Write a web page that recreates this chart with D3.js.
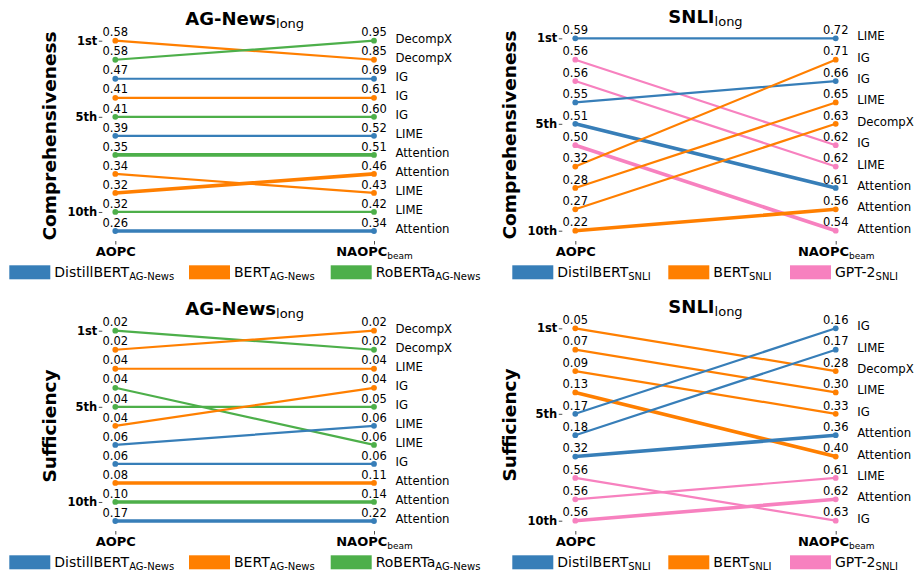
<!DOCTYPE html>
<html>
<head>
<meta charset="utf-8">
<script src="https://cdn.jsdelivr.net/npm/d3@7"></script>
<style>
  body { margin: 0; background: #fff; }
  svg { display: block; font-family: "DejaVu Sans", sans-serif; }
</style>
</head>
<body>
<svg id="chart" width="919" height="575"></svg>
<script>
// ---------------- DATA ----------------
const metricsX = ["AOPC", "NAOPC"];
const rankTicks = [1, 5, 10];
const rankTickLabels = ["1st", "5th", "10th"];

// Comprehensiveness, AG-News
const cAgModel  = ["BERT","RoBERTa","DistilBERT","BERT","RoBERTa","DistilBERT","RoBERTa","BERT","BERT","RoBERTa","DistilBERT"];
const cAgMethod = ["DecompX","DecompX","IG","IG","IG","LIME","Attention","LIME","Attention","LIME","Attention"];
const cAgRankA  = [1,2,3,4,5,6,7,8,9,10,11];
const cAgRankN  = [2,1,3,4,5,6,7,9,8,10,11];
const cAgAopc   = [0.58,0.58,0.47,0.41,0.41,0.39,0.35,0.34,0.32,0.32,0.26];
const cAgNaopc  = [0.85,0.95,0.69,0.61,0.60,0.52,0.51,0.43,0.46,0.42,0.34];

// Comprehensiveness, SNLI
const cSnModel  = ["DistilBERT","GPT-2","GPT-2","DistilBERT","DistilBERT","GPT-2","BERT","BERT","BERT","BERT"];
const cSnMethod = ["LIME","IG","LIME","IG","Attention","Attention","IG","LIME","DecompX","Attention"];
const cSnRankA  = [1,2,3,4,5,6,7,8,9,10];
const cSnRankN  = [1,6,7,3,8,10,2,4,5,9];
const cSnAopc   = [0.59,0.56,0.56,0.55,0.51,0.50,0.32,0.28,0.27,0.22];
const cSnNaopc  = [0.72,0.62,0.62,0.66,0.61,0.54,0.71,0.65,0.63,0.56];

// Sufficiency, AG-News
const sAgModel  = ["RoBERTa","BERT","BERT","RoBERTa","RoBERTa","BERT","DistilBERT","DistilBERT","BERT","RoBERTa","DistilBERT"];
const sAgMethod = ["DecompX","DecompX","LIME","LIME","IG","IG","LIME","IG","Attention","Attention","Attention"];
const sAgRankA  = [1,2,3,4,5,6,7,8,9,10,11];
const sAgRankN  = [2,1,3,7,5,4,6,8,9,10,11];
const sAgAopc   = [0.02,0.02,0.04,0.04,0.04,0.04,0.06,0.06,0.08,0.10,0.17];
const sAgNaopc  = [0.02,0.02,0.04,0.06,0.05,0.04,0.06,0.06,0.11,0.14,0.22];

// Sufficiency, SNLI
const sSnModel  = ["BERT","BERT","BERT","BERT","DistilBERT","DistilBERT","DistilBERT","GPT-2","GPT-2","GPT-2"];
const sSnMethod = ["DecompX","LIME","IG","Attention","IG","LIME","Attention","IG","LIME","Attention"];
const sSnRankA  = [1,2,3,4,5,6,7,8,9,10];
const sSnRankN  = [3,4,5,7,1,2,6,10,8,9];
const sSnAopc   = [0.05,0.07,0.09,0.13,0.17,0.18,0.32,0.56,0.56,0.56];
const sSnNaopc  = [0.28,0.30,0.33,0.40,0.16,0.17,0.36,0.63,0.61,0.62];

// Legends
const agLegendNames = ["DistillBERT","BERT","RoBERTa"];
const agLegendKeys  = ["DistilBERT","BERT","RoBERTa"];
const agLegendSub   = "AG-News";
const snLegendNames = ["DistilBERT","BERT","GPT-2"];
const snLegendKeys  = ["DistilBERT","BERT","GPT-2"];
const snLegendSub   = "SNLI";

// ---------------- STYLE / LAYOUT ----------------
const color = d3.scaleOrdinal()
  .domain(["DistilBERT","BERT","RoBERTa","GPT-2"])
  .range(["#377eb8","#ff7f00","#4daf4a","#f781bf"]);

const svg = d3.select("#chart");
const fmt = d3.format(".2f");

function buildLines(model, method, rA, rN, vA, vN) {
  return model.map((m, i) => ({model: m, method: method[i], rA: rA[i], rN: rN[i], vA: vA[i], vN: vN[i]}));
}

const panels = [
  {title:"AG-News", ylab:"Comprehensiveness", lines: buildLines(cAgModel,cAgMethod,cAgRankA,cAgRankN,cAgAopc,cAgNaopc),
   xr:[115.3,374], yr:[40.7,231], bottom:241, ytitleX:56, ytitleY:136},
  {title:"SNLI", ylab:"Comprehensiveness", lines: buildLines(cSnModel,cSnMethod,cSnRankA,cSnRankN,cSnAopc,cSnNaopc),
   xr:[575.3,835.7], yr:[38.3,230.7], bottom:241, ytitleX:516, ytitleY:135},
  {title:"AG-News", ylab:"Sufficiency", lines: buildLines(sAgModel,sAgMethod,sAgRankA,sAgRankN,sAgAopc,sAgNaopc),
   xr:[115.3,374], yr:[330.7,521], bottom:531, ytitleX:56, ytitleY:426},
  {title:"SNLI", ylab:"Sufficiency", lines: buildLines(sSnModel,sSnMethod,sSnRankA,sSnRankN,sSnAopc,sSnNaopc),
   xr:[575.3,835.7], yr:[328.3,520.7], bottom:531, ytitleX:516, ytitleY:425}
];

panels.forEach(p => {
  const n = p.lines.length;
  const x = d3.scalePoint().domain(metricsX).range(p.xr);
  const y = d3.scaleLinear().domain([1, n]).range(p.yr);
  const g = svg.append("g");
  const xA = x("AOPC"), xN = x("NAOPC");

  // title
  const t = g.append("text").attr("x", (xA + xN) / 2).attr("y", p.yr[0] - 15.5)
    .attr("text-anchor", "middle").attr("fill", "#000");
  t.append("tspan").attr("font-size", "18px").attr("font-weight", "bold").text(p.title);
  t.append("tspan").attr("font-size", "13px").attr("dy", "3").text("long");

  // y title
  g.append("text")
    .attr("transform", `translate(${p.ytitleX},${p.ytitleY}) rotate(-90)`)
    .attr("text-anchor", "middle").attr("font-size", "18.5px").attr("font-weight", "bold")
    .attr("fill", "#000").text(p.ylab);

  // y axis (rank ticks)
  const yAxis = g.append("g").attr("transform", `translate(${xA - 13},0)`)
    .call(d3.axisLeft(y).tickValues(rankTicks)
      .tickFormat((d, i) => rankTickLabels[i]).tickSize(3.5).tickPadding(1.5));
  yAxis.select(".domain").remove();
  yAxis.selectAll(".tick line").attr("stroke", "#222").attr("stroke-width", 0.8);
  yAxis.selectAll(".tick text").attr("font-size", "11.5px").attr("font-weight", "bold")
    .attr("font-family", "DejaVu Sans").attr("fill", "#000");

  // x axis
  const xAxis = g.append("g").attr("transform", `translate(0,${p.bottom})`)
    .call(d3.axisBottom(x).tickSize(3.5).tickPadding(2.3));
  xAxis.select(".domain").remove();
  xAxis.selectAll(".tick line").attr("stroke", "#222").attr("stroke-width", 0.8);
  xAxis.selectAll(".tick text").attr("font-size", "13px").attr("font-weight", "bold")
    .attr("font-family", "DejaVu Sans").attr("fill", "#000")
    .each(function(d) {
      const s = d3.select(this);
      s.text(null);
      s.append("tspan").text(d);
      if (d === "NAOPC") {
        s.append("tspan").attr("font-size", "9px").attr("font-weight", "normal").attr("dy", "2.5").text("beam");
      }
    });

  // lines
  g.append("g").selectAll("line").data(p.lines).join("line")
    .attr("x1", xA).attr("x2", xN)
    .attr("y1", d => y(d.rA)).attr("y2", d => y(d.rN))
    .attr("stroke", d => color(d.model))
    .attr("stroke-width", d => d.method === "Attention" ? 3.6 : 2.2)
    .attr("stroke-linecap", "round");

  // dots
  const dots = g.append("g");
  dots.selectAll("circle.a").data(p.lines).join("circle").attr("class", "a")
    .attr("cx", xA).attr("cy", d => y(d.rA)).attr("r", 2.9).attr("fill", d => color(d.model));
  dots.selectAll("circle.n").data(p.lines).join("circle").attr("class", "n")
    .attr("cx", xN).attr("cy", d => y(d.rN)).attr("r", 2.9).attr("fill", d => color(d.model));

  // value labels
  const lab = g.append("g").attr("font-size", "11.5px").attr("fill", "#000");
  lab.selectAll("text.va").data(p.lines).join("text").attr("class", "va")
    .attr("x", xA).attr("y", d => y(d.rA) - 4.3).attr("text-anchor", "middle").text(d => fmt(d.vA));
  lab.selectAll("text.vn").data(p.lines).join("text").attr("class", "vn")
    .attr("x", xN).attr("y", d => y(d.rN) - 4.3).attr("text-anchor", "middle").text(d => fmt(d.vN));
  lab.selectAll("text.m").data(p.lines).join("text").attr("class", "m")
    .attr("x", xN + 21.5).attr("y", d => y(d.rN) + 2).attr("font-size", "11.7px").text(d => d.method);
});

// legends
function legend(names, keys, sub, xs, top) {
  const g = svg.append("g");
  names.forEach((nm, i) => {
    g.append("rect").attr("x", xs[i]).attr("y", top).attr("width", 41).attr("height", 14)
      .attr("fill", color(keys[i]));
    const t = g.append("text").attr("x", xs[i] + 45).attr("y", top + 11.7).attr("fill", "#000");
    t.append("tspan").attr("font-size", "14px").text(nm);
    t.append("tspan").attr("font-size", "10px").attr("dy", "2.5").text(sub);
  });
}
const agLegendX = [9.3, 189, 330.7];
const snLegendX = [512.3, 668.3, 790];
[265.3, 555.3].forEach(top => {
  legend(agLegendNames, agLegendKeys, agLegendSub, agLegendX, top);
  legend(snLegendNames, snLegendKeys, snLegendSub, snLegendX, top);
});
</script>
</body>
</html>
